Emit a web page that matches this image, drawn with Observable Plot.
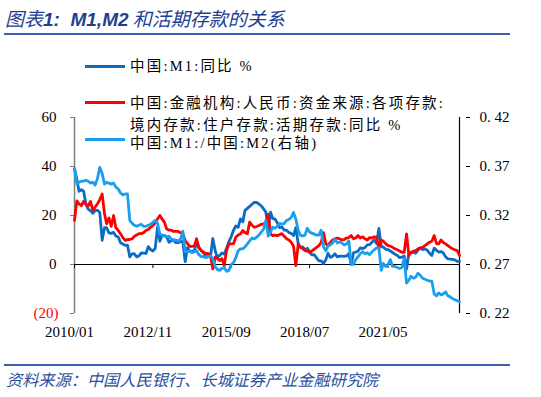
<!DOCTYPE html>
<html><head><meta charset="utf-8">
<script src="https://cdn.jsdelivr.net/npm/d3@7"></script>
<script src="https://cdn.jsdelivr.net/npm/@observablehq/plot@0.6"></script>
<style>
body{margin:0;background:#fff;}
#wrap{position:relative;width:541px;height:397px;overflow:hidden;background:#fff;}
#chart{position:absolute;left:0;top:0;}
#title{position:absolute;left:5px;top:5px;font-family:"Noto Sans CJK SC",sans-serif;font-style:italic;font-size:19px;line-height:26px;color:#1d3f8f;white-space:nowrap;}
#title b{font-family:"Liberation Sans",sans-serif;font-weight:bold;}
.hr{position:absolute;left:4px;width:506px;height:2px;background:#3a62b0;}
#source{position:absolute;left:6px;top:369px;font-family:"Noto Sans CJK SC",sans-serif;font-style:italic;font-size:16.2px;line-height:20px;color:#2a4fa0;white-space:nowrap;}
.sw{position:absolute;left:85px;width:40px;height:3px;}
.lt{position:absolute;left:130px;font-family:"Liberation Serif","Noto Sans CJK SC",serif;font-size:14.5px;line-height:14px;letter-spacing:2.2px;color:#000;white-space:nowrap;}
</style></head><body>
<div id="wrap">
  <div id="title">图表<b>1:&nbsp; M1,M2</b> 和活期存款的关系</div>
  <div class="hr" style="top:33px"></div>
  <div id="chart"></div>
  <div id="legend"></div>
  <div class="hr" style="top:364px"></div>
  <div id="source">资料来源：中国人民银行、长城证券产业金融研究院</div>
</div>
<script>
// ---- data (monthly, 2010/01 – 2023/12) ----
const startMonth = "2010-01";
const m1Yoy = [
 39.0,34.9,29.9,30.5,29.9,24.6,22.6,21.9,20.9,22.1,22.1,21.2,
 9.9,15.0,15.0,12.9,12.7,13.1,11.6,11.2,8.9,8.4,7.8,7.9,
 3.1,4.3,4.4,3.1,3.5,4.7,4.6,4.5,7.3,6.1,5.5,6.5,
 15.3,9.5,11.9,11.9,11.3,9.1,9.7,9.9,8.9,8.9,9.4,9.3,
 1.2,6.9,5.4,5.3,5.7,8.9,6.7,5.7,4.8,3.2,3.2,3.2,
 10.6,5.6,2.9,3.7,4.7,4.3,6.6,9.3,11.4,14.0,15.7,15.2,
 18.6,17.4,22.1,22.9,23.7,24.6,25.4,25.3,24.7,23.9,22.7,21.4,
 14.5,21.4,18.8,18.5,17.0,15.0,15.3,14.0,14.0,13.0,12.7,11.8,
 15.0,8.5,7.1,7.2,6.0,6.6,5.1,3.9,4.0,2.7,1.5,1.5,
 0.4,2.0,4.6,2.9,3.4,4.4,3.1,3.4,3.4,3.3,3.5,4.4,
 0.0,4.8,5.0,5.5,6.8,6.5,6.9,8.0,8.1,9.1,10.0,8.6,
 14.7,7.4,7.1,6.2,6.1,5.5,4.9,4.2,3.7,2.8,3.0,3.5,
 -1.9,4.7,4.7,5.1,4.6,5.8,6.7,6.1,6.4,5.8,4.6,3.7,
 6.7,5.8,5.1,5.3,4.7,3.1,2.3,2.2,2.1,1.9,1.3,1.3
];
const householdDemandDepositYoy = [
 18,26,24.8,24,25.7,24.5,24,25.7,22,23.5,24.8,26.5,
 28.8,20.7,16.6,19,15.6,20,15,13.9,12.5,11,9.8,10.2,
 10.2,10.5,11.5,12,12.6,12.6,13,13.9,14.3,15.2,15.9,17,
 18.6,20,18.6,17.3,14.6,14,14,13.5,13.5,13.5,13,12.6,
 9.8,8.5,7.4,7.4,7.5,10.5,7,5.7,5,4.5,4.5,3.7,
 -1.8,3,2.5,1.6,2.4,-0.4,5.7,8.4,8.4,8.5,11.2,12,
 12.5,13.9,13,12.6,17.3,16,15.2,15.5,15.9,16.4,16.6,17,
 20.5,12.5,11.8,12,11.8,12.2,12.6,11.5,10.5,10,9.1,7.5,
 -0.4,8.4,7,6.5,5.7,5.5,5,5.5,6.3,7,7.7,9,
 13,8.4,7.7,9,10,10.5,10.8,10.5,10,10.2,10.8,11,
 11.8,10.5,10.8,11.8,10.8,11.3,10.5,10,11,10.8,11.3,11.2,
 6.4,10,9.5,8.5,7.7,7.5,7,6.4,6,5.5,5,5,
 12.5,3.7,5,5.4,5.7,6.4,6.8,7,7.7,8.4,9.1,9.5,
 11.8,8.5,8.4,10,9,8.4,7.7,7,6.4,6,5.7,3.7
];
const m1m2Ratio = [
 0.368,0.352,0.354,0.355,0.355,0.356,0.355,0.353,0.354,0.351,0.358,0.369,
 0.363,0.352,0.354,0.353,0.352,0.353,0.349,0.347,0.343,0.341,0.342,0.342,
 0.315,0.312,0.310,0.309,0.310,0.311,0.309,0.309,0.310,0.311,0.313,0.315,
 0.312,0.301,0.300,0.299,0.298,0.299,0.296,0.295,0.295,0.294,0.296,0.304,
 0.283,0.283,0.284,0.282,0.283,0.284,0.280,0.278,0.278,0.277,0.278,0.279,
 0.276,0.268,0.265,0.264,0.266,0.267,0.263,0.264,0.270,0.272,0.277,0.284,
 0.286,0.286,0.288,0.291,0.294,0.297,0.296,0.298,0.300,0.303,0.306,0.315,
 0.299,0.303,0.308,0.307,0.309,0.312,0.311,0.312,0.315,0.316,0.318,0.323,
 0.316,0.305,0.300,0.299,0.300,0.307,0.303,0.302,0.301,0.300,0.300,0.305,
 0.288,0.284,0.289,0.290,0.292,0.296,0.292,0.293,0.292,0.290,0.291,0.294,
 0.271,0.270,0.275,0.278,0.281,0.283,0.281,0.282,0.280,0.283,0.285,0.287,
 0.287,0.264,0.271,0.268,0.270,0.275,0.268,0.268,0.267,0.266,0.267,0.276,
 0.251,0.254,0.258,0.256,0.257,0.261,0.259,0.256,0.255,0.254,0.253,0.253,
 0.240,0.238,0.241,0.239,0.240,0.242,0.238,0.237,0.235,0.234,0.233,0.232
];
const xTickLabels = ["2010/01","2012/11","2015/09","2018/07","2021/05"];
const leftTicks = [60,40,20,0];
const leftNegTick = -20;
const rightTicks = [0.42,0.37,0.32,0.27,0.22];
const seriesNames = ["中国:M1:同比 %","中国:金融机构:人民币:资金来源:各项存款:\n境内存款:住户存款:活期存款:同比 %","中国:M1:/中国:M2(右轴)"];
const colors = ["#0a6cc4","#ff0000","#1b9df0"];

// ---- build ----
const parseYM = s => new Date(Date.UTC(+s.slice(0,4), +s.slice(5,7)-1, 1));
const t0 = parseYM(startMonth);
const dates = m1Yoy.map((_, i) => new Date(Date.UTC(t0.getUTCFullYear(), t0.getUTCMonth()+i, 1)));
const rows = dates.map((d,i)=>({date:d, m1:m1Yoy[i], dep:householdDemandDepositYoy[i], ratio:m1m2Ratio[i]}));
const toLeft = r => (r - 0.27) * 400;   // right axis 0.22–0.42 ↔ left axis -20–60
const tickDates = xTickLabels.map(s => parseYM(s.replace("/","-")));
const font = '"Liberation Serif","Noto Sans CJK SC",serif';

const chart = Plot.plot({
  width: 541, height: 397,
  marginLeft: 74, marginRight: 82, marginTop: 117, marginBottom: 84,
  x: {type: "utc", domain: [dates[0], dates[dates.length-1]], axis: null},
  y: {domain: [-20, 60], axis: null},
  style: {fontFamily: font, fontSize: "15px", background: "transparent", color: "#000"},
  marks: [
    Plot.ruleX([dates[0]], {y1: -20, y2: 60, stroke: "#7f7f7f", strokeWidth: 1.5}),
    Plot.ruleX([dates[dates.length-1]], {y1: -20, y2: 60, stroke: "#000", strokeWidth: 1.2}),
    Plot.axisY({anchor: "left", ticks: [...leftTicks, leftNegTick], tickSize: 4, tickPadding: 14,
      tickFormat: d => d < 0 ? "" : String(d), stroke: "#7f7f7f", fill: "#000", style: "letter-spacing:2px"}),
    Plot.text([leftNegTick], {x: dates[0], y: d => d, text: d => `(${Math.abs(d)})`, textAnchor: "end", dx: -16, fill: "#ff0000", style: "letter-spacing:1px"}),
    Plot.axisY({anchor: "right", ticks: rightTicks.map(toLeft), tickSize: 4, tickPadding: 10, dx: 6,
      tickFormat: d => (0.27 + d/400).toFixed(2).replace(".", ". "), stroke: "#000", fill: "#000", style: "letter-spacing:1.5px"}),
    Plot.ruleY([0], {stroke: "#000", strokeWidth: 1.2}),
    Plot.ruleX(tickDates, {y1: 0, y2: 0, insetBottom: -4, stroke: "#000"}),
    Plot.axisX({anchor: "bottom", ticks: tickDates, tickSize: 0, tickPadding: 13, dx: -5,
      tickFormat: d3.utcFormat("%Y/%m"), style: "letter-spacing:1.2px"}),
    Plot.line(rows, {x: "date", y: "m1", stroke: colors[0], strokeWidth: 2.8}),
    Plot.line(rows, {x: "date", y: "dep", stroke: colors[1], strokeWidth: 2.8}),
    Plot.line(rows, {x: "date", y: d => toLeft(d.ratio), stroke: colors[2], strokeWidth: 2.8})
  ]
});
document.getElementById("chart").appendChild(chart);

// legend
const legend = document.getElementById("legend");
const swTops = [65, 101, 138];
const txtTops = [59, 96, 136];
seriesNames.forEach((name, i) => {
  const sw = document.createElement("div");
  sw.className = "sw"; sw.style.top = swTops[i] + "px"; sw.style.background = colors[i];
  legend.appendChild(sw);
  name.split("\n").forEach((line, j) => {
    const t = document.createElement("div");
    t.className = "lt";
    t.style.top = (i === 1 && j === 1 ? 118 : txtTops[i]) + "px";
    t.textContent = line;
    legend.appendChild(t);
  });
});
</script>
</body></html>
